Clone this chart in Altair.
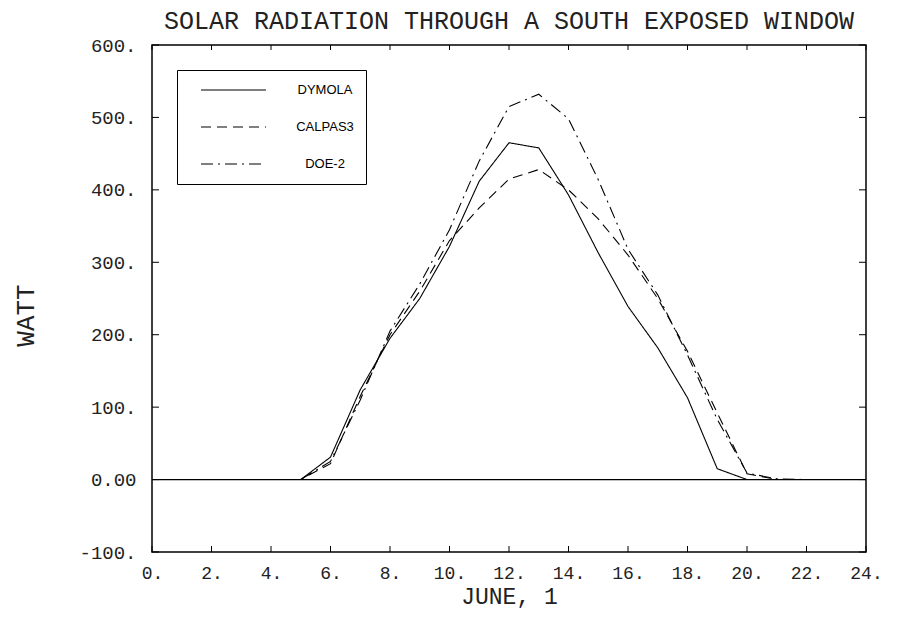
import altair as alt
import pandas as pd

hours = list(range(1, 25))
dymola = [0, 0, 0, 0, 0, 31, 124, 195, 250, 322, 412, 465, 458, 393, 313, 239, 182, 113, 15, 0, 0, 0, 0, 0]
calpas3 = [0, 0, 0, 0, 0, 22, 115, 200, 260, 330, 375, 415, 428, 400, 360, 310, 250, 177, 92, 8, 0, 0, 0, 0]
doe2 = [0, 0, 0, 0, 0, 25, 110, 205, 270, 345, 440, 515, 532, 498, 414, 318, 255, 172, 83, 9, 1, 0, 0, 0]

series_names = ["DYMOLA", "CALPAS3", "DOE-2"]
x_tick_values = list(range(0, 25, 2))
y_tick_values = list(range(-100, 601, 100))
chart_title = "SOLAR RADIATION THROUGH A SOUTH EXPOSED WINDOW"

rows = []
for name, vals in zip(series_names, [dymola, calpas3, doe2]):
    for h, v in zip(hours, vals):
        rows.append({"hour": h, "watt": v, "series": name})
df = pd.DataFrame(rows)

W, H = 714, 507
FONT = "Liberation Mono"

xscale = alt.Scale(domain=[0, 24], nice=False, zero=False)
yscale = alt.Scale(domain=[-100, 600], nice=False, zero=False)

lines = alt.Chart(df).mark_line(strokeWidth=1.1, color="black").encode(
    x=alt.X("hour:Q", scale=xscale,
            axis=alt.Axis(values=x_tick_values, ticks=False, domain=False, grid=False,
                          labelFlush=False, labelOverlap=False,
                          labelExpr="datum.value + '.'", labelFont=FONT, labelFontSize=18,
                          labelColor="#222", labelPadding=12,
                          title="JUNE, 1", titleFont=FONT, titleFontSize=23,
                          titleFontWeight="normal", titleColor="#222",
                          titleX=W / 2, titleY=51, titleAlign="center",
                          titleBaseline="alphabetic")),
    y=alt.Y("watt:Q", scale=yscale,
            axis=alt.Axis(values=y_tick_values, ticks=False, domain=False, grid=False,
                          labelFlush=False, labelOverlap=False,
                          labelExpr="datum.value == 0 ? '0.00' : datum.value + '.'",
                          labelFont=FONT, labelFontSize=19, labelColor="#222", labelPadding=16,
                          title="WATT", titleFont=FONT, titleFontSize=26,
                          titleFontWeight="normal", titleColor="#222",
                          titleAngle=270, titleX=-127, titleY=270,
                          titleAlign="center", titleBaseline="middle")),
    strokeDash=alt.StrokeDash(
        "series:N",
        scale=alt.Scale(domain=series_names, range=[[1, 0], [10, 6], [12, 5, 2, 5]]),
        legend=alt.Legend(title=None, orient="none", legendX=25, legendY=25,
                          symbolType="stroke", symbolSize=4225, symbolStrokeWidth=1.2,
                          symbolStrokeColor="black", symbolOpacity=1, symbolOffset=11,
                          clipHeight=16, rowPadding=21, padding=12,
                          labelFont="Liberation Sans", labelFontSize=13, labelColor="black",
                          labelAlign="center", labelOffset=58,
                          strokeColor="black", fillColor="white"),
        sort=series_names,
    ),
    detail="series:N",
)

zero = alt.Chart(pd.DataFrame({"v": [0]})).mark_rule(color="black", strokeWidth=1.2).encode(
    y=alt.Y("v:Q", scale=yscale)
)

ytick_df = pd.DataFrame({"v": y_tick_values})
xtick_df = pd.DataFrame({"h": x_tick_values})

yticks_left = alt.Chart(ytick_df).mark_rule(color="black", strokeWidth=1).encode(
    y=alt.Y("v:Q", scale=yscale), x=alt.value(0), x2=alt.value(7)
)
yticks_right = alt.Chart(ytick_df).mark_rule(color="black", strokeWidth=1).encode(
    y=alt.Y("v:Q", scale=yscale), x=alt.value(W - 7), x2=alt.value(W)
)
xticks_bottom = alt.Chart(xtick_df).mark_rule(color="black", strokeWidth=1).encode(
    x=alt.X("h:Q", scale=xscale), y=alt.value(H), y2=alt.value(H - 6)
)
xticks_top = alt.Chart(xtick_df).mark_rule(color="black", strokeWidth=1).encode(
    x=alt.X("h:Q", scale=xscale), y=alt.value(0), y2=alt.value(5)
)

title_mark = alt.Chart(pd.DataFrame({"t": [chart_title]})).mark_text(
    font=FONT, fontSize=25, color="#222", align="center", baseline="alphabetic"
).encode(text="t:N", x=alt.value(W / 2), y=alt.value(-16))

chart = alt.layer(zero, yticks_left, yticks_right, xticks_bottom, xticks_top, lines,
                  title_mark).properties(
    width=W, height=H,
    autosize=alt.AutoSizeParams(type="none"),
    padding={"left": 144, "top": 37, "right": 50, "bottom": 59},
    background="white",
).configure_view(stroke="black", strokeWidth=1.5)

chart.save("out.html", embed_options={"renderer": "svg", "actions": False})
